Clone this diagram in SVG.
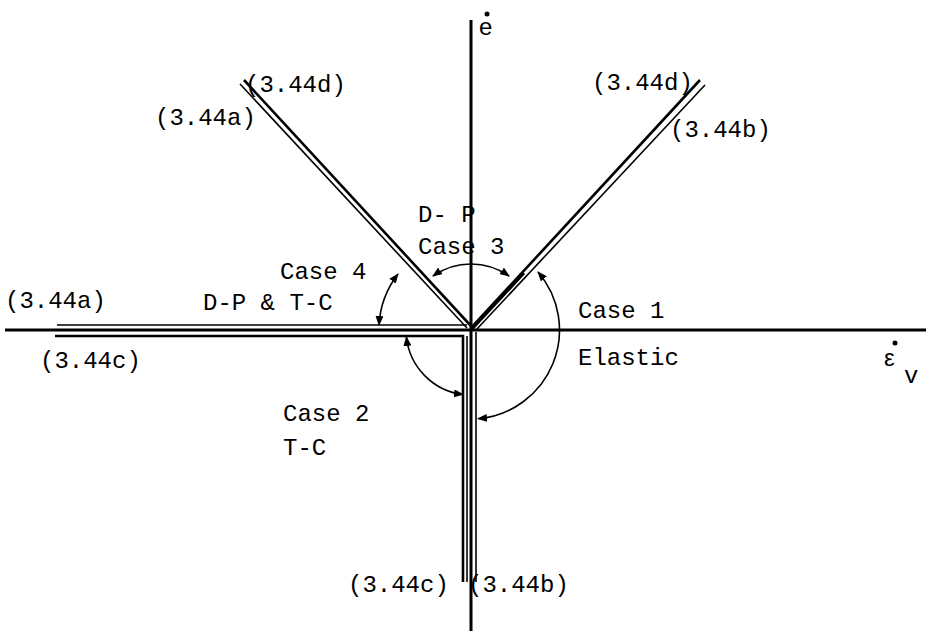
<svg xmlns="http://www.w3.org/2000/svg" width="926" height="631" viewBox="0 0 926 631">
<style>
.ax{stroke:#000;stroke-width:3;fill:none}
.ln{stroke:#000;stroke-width:1.6;fill:none}
.lt{stroke:#000;stroke-width:2.6;fill:none}
.arc{stroke:#000;stroke-width:1.6;fill:none;marker-start:url(#ah);marker-end:url(#ah)}
text{font-family:"Liberation Mono","DejaVu Sans Mono",monospace;font-size:24px;fill:#000}
.sym{font-family:"Liberation Sans","DejaVu Sans",sans-serif;font-size:24px}
</style>
<defs>
<marker id="ah" viewBox="0 0 10 8" refX="9" refY="4" markerWidth="10" markerHeight="8" markerUnits="userSpaceOnUse" orient="auto-start-reverse">
<path d="M0,0 L10,4 L0,8 Z" fill="#000"/>
</marker>
</defs>
<rect width="926" height="631" fill="#fff"/>
<g id="axes">
<line class="ax" x1="471" y1="20" x2="471" y2="631"/>
<line class="ax" x1="5" y1="330" x2="926" y2="330" stroke-width="2.6"/>
</g>
<g id="boundaries">
<line class="ln" x1="240" y1="84" x2="467" y2="328"/>
<line class="lt" x1="244" y1="80" x2="471" y2="326"/>
<line class="lt" x1="700" y1="80" x2="471" y2="328"/>
<line class="ln" x1="705" y1="85" x2="476" y2="330"/>
<line class="ax" x1="471" y1="330" x2="524" y2="273" stroke-width="5"/>
<line class="ln" x1="57" y1="325" x2="467" y2="325"/>
<polyline class="lt" points="55,336 463,336 463,582"/>
<line class="ln" x1="467" y1="336" x2="467" y2="582"/>
<line class="ln" x1="476" y1="332" x2="476" y2="582"/>
</g>
<g id="connectors">
<path id="arc-case3" class="arc" d="M433,276 A66,66 0 0 1 509,276"/>
<path id="arc-case4" class="arc" d="M398,274 A92,92 0 0 0 379,325"/>
<path id="arc-case2" class="arc" d="M406.4,337 A65,65 0 0 0 463,394.5"/>
<path id="arc-case1" class="arc" d="M538,272 A89,89 0 0 1 478,418.7"/>
</g>
<g id="labels">
<text x="245" y="92">(3.44d)</text>
<text x="155" y="125">(3.44a)</text>
<text x="592" y="90">(3.44d)</text>
<text x="670" y="137">(3.44b)</text>
<text x="418" y="222" xml:space="preserve">D- P</text>
<text x="418" y="254">Case 3</text>
<text x="280" y="279">Case 4</text>
<text x="203" y="310">D-P &amp; T-C</text>
<text x="5" y="308">(3.44a)</text>
<text x="578" y="318">Case 1</text>
<text x="40" y="368">(3.44c)</text>
<text x="578" y="365">Elastic</text>
<text x="283" y="421">Case 2</text>
<text x="283" y="455">T-C</text>
<text x="348" y="592">(3.44c)</text>
<text x="468" y="592">(3.44b)</text>
</g>
<g id="axis-labels">
<text class="sym" x="479" y="35">e</text>
<circle cx="487" cy="14" r="2.5" fill="#000"/>
<text class="sym" x="884" y="366">ε</text>
<circle cx="895" cy="343" r="2.5" fill="#000"/>
<text x="904" y="383">v</text>
</g>
</svg>
